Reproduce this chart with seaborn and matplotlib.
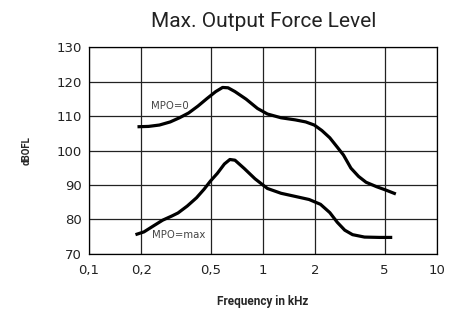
import numpy as np
import pandas as pd
import matplotlib
matplotlib.use("Agg")
import matplotlib.pyplot as plt
import seaborn as sns

# values
freq_mpo0 = [0.19, 0.22, 0.254, 0.293, 0.331, 0.374, 0.423, 0.477, 0.535, 0.586, 0.63, 0.69, 0.80,
             0.93, 1.06, 1.27, 1.53, 1.76, 1.97, 2.18, 2.42, 2.67, 2.90, 3.20, 3.54, 3.91, 4.50, 5.04, 5.8]
dbofl_mpo0 = [106.9, 107.0, 107.4, 108.3, 109.5, 110.9, 112.9, 115.1, 117.1, 118.3, 118.2, 117.1, 114.9,
              112.2, 110.6, 109.5, 108.9, 108.3, 107.4, 105.8, 103.7, 101.0, 98.7, 94.9, 92.5, 90.8, 89.5, 88.6, 87.4]

freq_mpomax = [0.185, 0.207, 0.234, 0.265, 0.299, 0.325, 0.367, 0.415, 0.459, 0.498, 0.547, 0.60, 0.645,
               0.69, 0.78, 0.90, 1.06, 1.27, 1.53, 1.84, 2.14, 2.42, 2.67, 2.95, 3.27, 3.83, 4.69, 5.53]
dbofl_mpomax = [75.6, 76.4, 78.1, 79.8, 81.0, 81.9, 83.9, 86.3, 88.8, 91.1, 93.4, 96.1, 97.4,
                97.2, 94.8, 91.8, 89.0, 87.6, 86.7, 85.8, 84.4, 82.0, 79.2, 76.9, 75.6, 74.9, 74.8, 74.8]

xticks = [0.1, 0.2, 0.5, 1, 2, 5, 10]
xtick_labels = ["0,1", "0,2", "0,5", "1", "2", "5", "10"]
yticks = [70, 80, 90, 100, 110, 120, 130]

df = pd.concat([
    pd.DataFrame({"freq": freq_mpo0, "dB": dbofl_mpo0, "curve": "MPO=0"}),
    pd.DataFrame({"freq": freq_mpomax, "dB": dbofl_mpomax, "curve": "MPO=max"}),
])

sns.set_style("white")
plt.rcParams['font.family'] = ['DejaVu Sans']

fig = plt.figure(figsize=(4.61, 3.12), dpi=100)
ax = fig.add_axes([0.193, 0.186, 0.755, 0.663])

sns.lineplot(data=df, x="freq", y="dB", units="curve", estimator=None,
             color="black", linewidth=2.3, ax=ax, sort=False,
             solid_joinstyle="round", solid_capstyle="butt")

ax.set_xscale("log")
ax.set_xlim(0.1, 10)
ax.set_ylim(70, 130)
ax.set_xticks(xticks)
ax.set_xticklabels(xtick_labels)
ax.xaxis.set_minor_locator(matplotlib.ticker.NullLocator())
ax.set_yticks(yticks)
ax.grid(True, color="#222222", linewidth=0.9)
for s in ax.spines.values():
    s.set_color("black")
    s.set_linewidth(0.9)
ax.tick_params(length=0, labelsize=9.5, colors="#222222")
ax.tick_params(axis="x", pad=7)
ax.tick_params(axis="y", pad=5)

ax.text(0.29, 112.8, "MPO=0", fontsize=7.3, color="#444444", ha="center", va="center")
ax.text(0.326, 75.6, "MPO=max", fontsize=7.3, color="#444444", ha="center", va="center")

ax.set_xlabel("Frequency in kHz", fontsize=8.5, fontweight="bold", family="Roboto", labelpad=13)
ax.set_ylabel("dBOFL", fontsize=7, fontweight="bold", family="Roboto", labelpad=18)
fig.text(0.571, 0.93, "Max. Output Force Level", fontsize=15, family="Roboto",
         ha="center", va="center", color="#222222")

fig.savefig("out.png", dpi=100)
